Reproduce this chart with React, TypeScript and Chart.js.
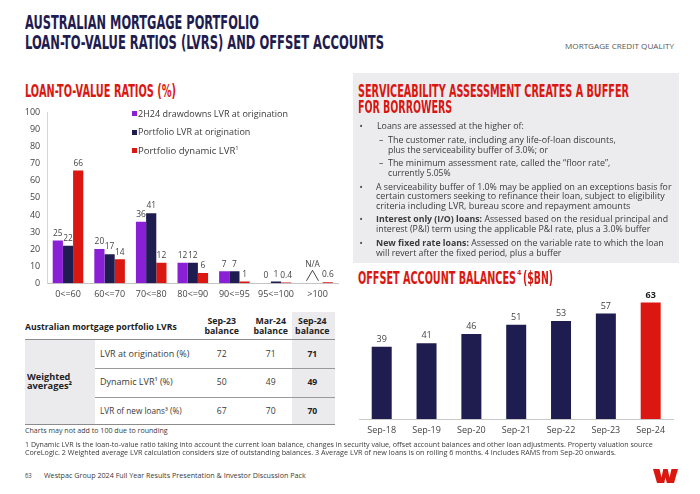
import React, { useEffect, useRef } from "react";
import { Chart, registerables } from "chart.js";

Chart.register(...registerables);

// ---------- DATA ----------
const lvrCategories = ["0<=60", "60<=70", "70<=80", "80<=90", "90<=95", "95<=100", ">100"];
const drawdownsLVR: (number | null)[] = [25, 20, 36, 12, 7, 0, null];
const portfolioLVR: (number | null)[] = [22, 17, 41, 12, 7, 1, null];
const dynamicLVR: (number | null)[] = [66, 14, 12, 6, 1, 0.4, 0.6];
const lvrSeriesNames = ["2H24 drawdowns LVR at origination", "Portfolio LVR at origination", "Portfolio dynamic LVR"];
const lvrAxisMax = 100;
const lvrAxisStep = 10;

const offsetPeriods = ["Sep-18", "Sep-19", "Sep-20", "Sep-21", "Sep-22", "Sep-23", "Sep-24"];
const offsetBalances = [39, 41, 46, 51, 53, 57, 63];

const tableColumns = ["Sep-23", "Mar-24", "Sep-24"];
const tableRowLabels = ["LVR at origination (%)", "Dynamic LVR¹ (%)", "LVR of new loans³ (%)"];
const tableSep23 = [72, 50, 67];
const tableMar24 = [71, 49, 70];
const tableSep24 = [71, 49, 70];

// ---------- STYLE ----------
const PURPLE = "#8A20D5";
const NAVY = "#1F1C4F";
const RED = "#DA1710";
const TEXT = "#3a3a3a";
const FONT = "'Open Sans', 'Noto Sans', sans-serif";
const COND = "'Liberation Sans Narrow', 'DejaVu Sans Condensed', 'Roboto', sans-serif";

let measureCtx: CanvasRenderingContext2D | null = null;
function measure(text: string, font: string) {
  if (!measureCtx) measureCtx = document.createElement("canvas").getContext("2d");
  measureCtx!.font = font;
  return measureCtx!.measureText(text).width;
}

function FitText({ text, left, capTop, width, cap, color }: any) {
  const size = cap / 0.716;
  const w = measure(text, `bold ${size}px ${COND}`);
  const sx = width / w;
  return (
    <div
      style={{
        position: "absolute",
        left,
        top: capTop - 0.135 * size,
        fontFamily: COND,
        fontWeight: 700,
        fontSize: size,
        lineHeight: 1,
        color,
        whiteSpace: "nowrap",
        transform: `scaleX(${sx})`,
        transformOrigin: "0 0",
      }}
    >
      {text}
    </div>
  );
}

// text line; parts = [text, bold][]; optional target width => horizontal fit
function L({ x, y, size = 8, parts, text, bold, color = TEXT, align = "left", w, sup }: any) {
  const ps: any[] = parts || [[text, !!bold]];
  let sx = 1;
  if (w) {
    let nat = 0;
    ps.forEach((p) => (nat += measure(String(p[0]), `${p[1] ? "bold " : ""}${size}px ${FONT}`)));
    if (sup) nat += measure(sup, `${size * 0.62}px ${FONT}`);
    sx = w / nat;
  }
  const style: any = {
    position: "absolute",
    top: y - 6,
    height: 12,
    lineHeight: "12px",
    fontFamily: FONT,
    fontSize: size,
    color,
    whiteSpace: "nowrap",
    transform: sx !== 1 ? `scaleX(${sx})` : undefined,
    transformOrigin: "0 0",
  };
  if (align === "center") {
    style.left = x - 50;
    style.width = 100;
    style.textAlign = "center";
    style.transformOrigin = "50% 0";
  } else {
    style.left = x;
  }
  return (
    <div style={style}>
      {ps.map((p, k) => (
        <span key={k} style={{ fontWeight: p[1] ? 700 : 400 }}>{p[0]}</span>
      ))}
      {sup ? <span style={{ fontSize: size * 0.62, position: "relative", top: -size * 0.4 }}>{sup}</span> : null}
    </div>
  );
}

const lvrLabelPlugin = {
  id: "lvrLabels",
  afterDatasetsDraw(chart: any) {
    const ctx = chart.ctx;
    ctx.save();
    ctx.font = `8.4px ${FONT}`;
    ctx.fillStyle = "#444";
    ctx.textAlign = "center";
    ctx.textBaseline = "bottom";
    const base = chart.scales.y.getPixelForValue(0);
    chart.data.datasets.forEach((ds: any, i: number) => {
      const meta = chart.getDatasetMeta(i);
      ds.data.forEach((v: any, j: number) => {
        if (v == null) {
          if (i === 0) {
            const red = chart.getDatasetMeta(2).data[j];
            const bw = red.width;
            const cx = red.x - 1.5 * bw;
            ctx.fillText("N/A", cx, base - 14);
            ctx.strokeStyle = "#444";
            ctx.lineWidth = 1;
            ctx.beginPath();
            ctx.moveTo(cx - 6, base - 2.5);
            ctx.lineTo(cx, base - 13);
            ctx.lineTo(cx + 6, base - 2.5);
            ctx.stroke();
          }
          return;
        }
        const el = meta.data[j];
        ctx.fillText(String(v), el.x, el.y - 3);
      });
    });
    ctx.restore();
  },
};

const offsetLabelPlugin = {
  id: "offsetLabels",
  afterDatasetsDraw(chart: any) {
    const ctx = chart.ctx;
    ctx.save();
    ctx.textAlign = "center";
    ctx.textBaseline = "bottom";
    const meta = chart.getDatasetMeta(0);
    const n = offsetBalances.length;
    offsetBalances.forEach((v, j) => {
      const el = meta.data[j];
      ctx.font = `${j === n - 1 ? "bold " : ""}9px ${FONT}`;
      ctx.fillStyle = j === n - 1 ? "#222" : "#444";
      ctx.fillText(String(v), el.x, el.y - 3);
    });
    ctx.restore();
  },
};

function LvrChart() {
  const ref = useRef<HTMLCanvasElement>(null);
  useEffect(() => {
    const chart = new Chart(ref.current!, {
      type: "bar",
      data: {
        labels: lvrCategories,
        datasets: [
          { label: lvrSeriesNames[0], data: drawdownsLVR, backgroundColor: PURPLE },
          { label: lvrSeriesNames[1], data: portfolioLVR, backgroundColor: NAVY },
          { label: lvrSeriesNames[2], data: dynamicLVR, backgroundColor: RED },
        ],
      } as any,
      options: {
        animation: false,
        responsive: false,
        maintainAspectRatio: false,
        layout: { padding: { left: 0, right: 6.6, top: 8, bottom: 0 } },
        plugins: { legend: { display: false }, tooltip: { enabled: false } },
        datasets: { bar: { categoryPercentage: 0.735, barPercentage: 1 } },
        scales: {
          x: {
            grid: { display: false, drawTicks: false },
            border: { display: true, color: "#c4c4c4" },
            ticks: {
              font: { family: FONT, size: 9 },
              color: "#444",
              padding: 6,
              maxRotation: 0,
              minRotation: 0,
              autoSkip: false,
            },
            afterFit: (s: any) => { s.height = 26.7; },
          },
          y: {
            min: 0,
            max: lvrAxisMax,
            ticks: { stepSize: lvrAxisStep, font: { family: FONT, size: 9 }, color: "#444", padding: 7 },
            grid: { display: false, drawTicks: false },
            border: { display: true, color: "#d6d6d6" },
            afterFit: (s: any) => { s.width = 47.2; },
          },
        },
      } as any,
      plugins: [lvrLabelPlugin],
    });
    return () => chart.destroy();
  }, []);
  return (
    <canvas
      ref={ref}
      width={345}
      height={210}
      style={{ position: "absolute", left: 0, top: 100, width: 345, height: 210 }}
    />
  );
}

function OffsetChart() {
  const ref = useRef<HTMLCanvasElement>(null);
  useEffect(() => {
    const chart = new Chart(ref.current!, {
      type: "bar",
      data: {
        labels: offsetPeriods,
        datasets: [
          {
            label: "Offset account balances",
            data: offsetBalances,
            backgroundColor: offsetBalances.map((_, i) => (i === offsetBalances.length - 1 ? RED : NAVY)),
          },
        ],
      },
      options: {
        animation: false,
        responsive: false,
        maintainAspectRatio: false,
        layout: { padding: { left: 19.3, right: 26.9, top: 9.5, bottom: 0 } },
        plugins: { legend: { display: false }, tooltip: { enabled: false } },
        datasets: { bar: { categoryPercentage: 0.446, barPercentage: 1 } },
        scales: {
          x: {
            grid: { display: false, drawTicks: false },
            border: { display: true, color: "#c8c8c8" },
            ticks: { font: { family: FONT, size: 9 }, color: "#444", padding: 6, maxRotation: 0, autoSkip: false },
            afterFit: (s: any) => { s.height = 21; },
          },
          y: { display: false, min: 0, max: 70 },
        },
      } as any,
      plugins: [offsetLabelPlugin],
    });
    return () => chart.destroy();
  }, []);
  return (
    <canvas
      ref={ref}
      width={360}
      height={160}
      style={{ position: "absolute", left: 340, top: 280, width: 360, height: 160 }}
    />
  );
}

const bodyLines: any[] = [
  { y: 126, x: 376.7, w: 146.7, mark: "•", parts: [["Loans are assessed at the higher of:", false]] },
  { y: 139.5, x: 388.3, w: 227.7, mark: "–", parts: [["The customer rate, including any life-of-loan discounts,", false]] },
  { y: 149.8, x: 388.3, w: 160, parts: [["plus the serviceability buffer of 3.0%; or", false]] },
  { y: 162.7, x: 388.3, w: 222.3, mark: "–", parts: [["The minimum assessment rate, called the “floor rate”,", false]] },
  { y: 172.7, x: 388.3, w: 62.7, parts: [["currently 5.05%", false]] },
  { y: 186.5, x: 376.3, w: 295.5, mark: "•", parts: [["A serviceability buffer of 1.0% may be applied on an exceptions basis for", false]] },
  { y: 196.3, x: 376.3, w: 288.7, parts: [["certain customers seeking to refinance their loan, subject to eligibility", false]] },
  { y: 206.2, x: 376.3, w: 254.4, parts: [["criteria including LVR, bureau score and repayment amounts", false]] },
  { y: 219.2, x: 376.3, w: 292, mark: "•", parts: [["Interest only (I/O) loans:", true], [" Assessed based on the residual principal and", false]] },
  { y: 229.2, x: 376.3, w: 274.4, parts: [["interest (P&I) term using the applicable P&I rate, plus a 3.0% buffer", false]] },
  { y: 242.5, x: 376.3, w: 287.7, mark: "•", parts: [["New fixed rate loans:", true], [" Assessed on the variable rate to which the loan", false]] },
  { y: 252.5, x: 376.3, w: 185.4, parts: [["will revert after the fixed period, plus a buffer", false]] },
];

function Table() {
  const colX = [221.7, 270.7, 312.3];
  const rowY = [353.5, 382, 410.5];
  const rowW = [89.3, 72.7, 81.7];
  const cols = [tableSep23, tableMar24, tableSep24];
  return (
    <>
      <div style={{ position: "absolute", left: 291.7, top: 311.7, width: 43.3, height: 112.3, background: "#ebebee" }} />
      <div style={{ position: "absolute", left: 25, top: 339.3, width: 70, height: 84.7, background: "#ebebee" }} />
      <div style={{ position: "absolute", left: 25, top: 338.8, width: 310, height: 1.2, background: "#8c8c8c" }} />
      <div style={{ position: "absolute", left: 95, top: 367.8, width: 240, height: 1, background: "#9a9a9a" }} />
      <div style={{ position: "absolute", left: 95, top: 396.5, width: 240, height: 1, background: "#9a9a9a" }} />
      <div style={{ position: "absolute", left: 25, top: 423.5, width: 310, height: 1.2, background: "#8c8c8c" }} />
      <L x={25} y={326.7} size={8.6} bold color="#222" w={151.7} text="Australian mortgage portfolio LVRs" />
      {tableColumns.map((c, i) => (
        <React.Fragment key={c}>
          <L x={colX[i]} y={320.7} size={8.8} bold align="center" color="#222" text={c} />
          <L x={colX[i]} y={330.7} size={8.8} bold align="center" color="#222" text="balance" />
        </React.Fragment>
      ))}
      <L x={26.7} y={376.5} size={8.6} bold color="#222" w={43.3} text="Weighted" />
      <L x={26.7} y={385.5} size={8.6} bold color="#222" w={45} text="averages²" />
      {tableRowLabels.map((r, i) => (
        <L key={r} x={100} y={rowY[i]} size={8.6} w={rowW[i]} text={r} />
      ))}
      {cols.map((col, ci) =>
        col.map((v, ri) => (
          <L
            key={ci + "-" + ri}
            x={colX[ci]}
            y={rowY[ri]}
            size={8.6}
            bold={ci === 2}
            align="center"
            color={ci === 2 ? "#222" : TEXT}
            text={String(v)}
          />
        ))
      )}
    </>
  );
}

export default function App() {
  const legendY = [113.8, 132.3, 150.7];
  const legendW = [150, 112.3, 96.7];
  return (
    <div style={{ position: "absolute", left: 0, top: 0, width: 700, height: 494, background: "#fff", overflow: "hidden" }}>
      <FitText text="AUSTRALIAN MORTGAGE PORTFOLIO" left={25} capTop={16} width={234} cap={14} color={NAVY} />
      <FitText text="LOAN-TO-VALUE RATIOS (LVRS) AND OFFSET ACCOUNTS" left={25} capTop={36} width={359} cap={14} color={NAVY} />
      <L x={565} y={47} size={7} color="#555" w={109} text="MORTGAGE CREDIT QUALITY" />

      <FitText text="LOAN-TO-VALUE RATIOS (%)" left={25} capTop={85} width={151} cap={12} color={RED} />
      <LvrChart />
      {[PURPLE, NAVY, RED].map((c, i) => (
        <React.Fragment key={i}>
          <div style={{ position: "absolute", left: 132, top: legendY[i] - 2.7, width: 5.4, height: 5.4, background: c }} />
          <L x={137.8} y={legendY[i]} size={9} w={legendW[i] + (i === 2 ? 4 : 0)} text={lvrSeriesNames[i]} sup={i === 2 ? "1" : undefined} />
        </React.Fragment>
      ))}

      <Table />
      <L x={25} y={431.3} size={7} w={142.7} text="Charts may not add to 100 due to rounding" />

      <div style={{ position: "absolute", left: 353.3, top: 72.7, width: 326, height: 190, background: "#ececef" }} />
      <FitText text="SERVICEABILITY ASSESSMENT CREATES A BUFFER" left={358.3} capTop={85} width={271} cap={12} color={RED} />
      <FitText text="FOR BORROWERS" left={358.3} capTop={101} width={94} cap={12} color={RED} />
      {bodyLines.map((l, i) => (
        <React.Fragment key={i}>
          {l.mark === "•" ? <L x={359.5} y={l.y} size={8.6} text="•" /> : null}
          {l.mark === "–" ? <L x={379} y={l.y} size={8.6} text="–" /> : null}
          <L x={l.x} y={l.y} size={8.8} w={l.w} parts={l.parts} />
        </React.Fragment>
      ))}

      <FitText text="OFFSET ACCOUNT BALANCES" left={358.3} capTop={272} width={158} cap={12} color={RED} />
      <div style={{ position: "absolute", left: 517, top: 269.5, fontFamily: COND, fontWeight: 700, fontSize: 7, lineHeight: 1, color: RED }}>4</div>
      <FitText text="($BN)" left={523} capTop={272} width={30} cap={12} color={RED} />
      <OffsetChart />

      <L
        x={25}
        y={445}
        size={6.3}
        w={627.7}
        text="1 Dynamic LVR is the loan-to-value ratio taking into account the current loan balance, changes in security value, offset account balances and other loan adjustments. Property valuation source"
      />
      <L
        x={25}
        y={452.6}
        size={6.3}
        w={591}
        text="CoreLogic. 2 Weighted average LVR calculation considers size of outstanding balances. 3 Average LVR of new loans is on rolling 6 months. 4 Includes RAMS from Sep-20 onwards."
      />
      <L x={25} y={475.7} size={6.8} w={6.7} text="63" />
      <L x={44.3} y={475.7} size={6.8} w={261.7} text="Westpac Group 2024 Full Year Results Presentation & Investor Discussion Pack" />
      <svg style={{ position: "absolute", left: 653, top: 469 }} width={25} height={14} viewBox="0 0 25 14">
        <polygon
          points="0,0 6.5,0 8.5,8.5 10.3,0 14.7,0 16.5,8.5 18.5,0 25,0 21,14 13.8,14 12.5,8.5 11.2,14 4,14"
          fill={RED}
        />
      </svg>
    </div>
  );
}
